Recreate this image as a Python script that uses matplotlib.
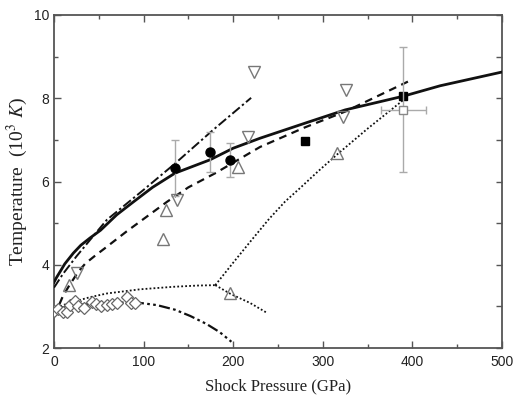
import matplotlib
matplotlib.use("Agg")
import matplotlib.pyplot as plt
from matplotlib.ticker import MultipleLocator

plt.rcParams['mathtext.fontset'] = 'stix'

# Curves
solid_P = [0, 3, 6.7, 12, 21.6, 30, 40, 52, 70, 88, 110, 135, 174, 200, 230, 280, 325, 390, 431, 500]
solid_T = [3.58, 3.7, 3.83, 4.02, 4.28, 4.47, 4.64, 4.83, 5.2, 5.5, 5.86, 6.2, 6.52, 6.8, 7.04, 7.4, 7.72, 8.05, 8.3, 8.63]

dash_P = [6, 10, 17, 27, 35, 46, 57, 81, 100, 126, 150, 180, 230, 280, 325, 395]
dash_T = [3.05, 3.25, 3.5, 3.83, 4.03, 4.22, 4.4, 4.8, 5.1, 5.51, 5.86, 6.2, 6.83, 7.3, 7.68, 8.4]

dashdot_P = [0, 10, 25, 45, 59, 100, 135, 177.6, 220]
dashdot_T = [3.45, 3.78, 4.2, 4.72, 5.08, 5.8, 6.43, 7.24, 8.01]

dotted_low_P = [3, 10, 21.7, 40, 59, 96, 133, 160, 180]
dotted_low_T = [2.96, 3.03, 3.11, 3.22, 3.31, 3.41, 3.47, 3.5, 3.51]

dotted_up_P = [180, 200, 220, 240, 258, 275, 295, 316, 350, 390]
dotted_up_T = [3.51, 4.05, 4.58, 5.1, 5.52, 5.85, 6.25, 6.65, 7.27, 7.96]

dotted_down_P = [180, 197, 219, 238]
dotted_down_T = [3.51, 3.3, 3.08, 2.84]

dd_P = [0, 10, 30, 60, 90, 115, 135, 152, 170, 185, 198]
dd_T = [2.93, 2.98, 3.04, 3.08, 3.1, 3.03, 2.92, 2.77, 2.58, 2.38, 2.15]

# Markers
circ_P = [135, 174, 196]
circ_T = [6.33, 6.7, 6.52]
circ_err = [0.67, 0.48, 0.4]

sq_P = [280, 390]
sq_T = [6.98, 8.05]

osq_P = [390]
osq_T = [7.72]
osq_xerr = [25]
osq_yerr = [1.5]

dtri_P = [223, 326, 323, 217, 137, 26]
dtri_T = [8.64, 8.2, 7.56, 7.07, 5.55, 3.81]

utri_P = [125, 122, 205, 196, 316, 17]
utri_T = [5.31, 4.63, 6.35, 3.33, 6.68, 3.51]

dia_P = [0, 5, 10, 14, 18, 23, 27, 33, 42, 47, 53, 59, 65, 70, 81, 86, 90]
dia_T = [2.88, 2.93, 2.87, 2.87, 3.03, 3.12, 3.02, 2.97, 3.1, 3.06, 3.0, 3.03, 3.05, 3.07, 3.22, 3.07, 3.08]

fig = plt.figure(figsize=(5.13, 3.99), dpi=100)
ax = fig.add_axes([54/513, 1-348/399, 448/513, 333/399])

lc = '#111111'
ax.plot(solid_P, solid_T, '-', color=lc, lw=2.0, zorder=3)
ax.plot(dash_P, dash_T, color=lc, lw=1.6, dashes=(3.5, 2.5), zorder=3)
ax.plot(dashdot_P, dashdot_T, color=lc, lw=1.4, dashes=(5, 1.5, 1.2, 1.5), zorder=3)
ax.plot(dotted_low_P, dotted_low_T, color=lc, lw=1.3, dashes=(1, 1.2), zorder=3)
ax.plot(dotted_up_P, dotted_up_T, color=lc, lw=1.3, dashes=(1, 1.2), zorder=3)
ax.plot(dotted_down_P, dotted_down_T, color=lc, lw=1.3, dashes=(1, 1.2), zorder=3)
ax.plot(dd_P, dd_T, color=lc, lw=1.6, dashes=(5, 1.5, 1.2, 1.5, 1.2, 1.5), zorder=3)

ec = '#aaaaaa'
ax.plot(circ_P, circ_T, 'o', color='black', ms=6.5, zorder=4)
ax.errorbar(circ_P, circ_T, yerr=circ_err, fmt='none',
            ecolor=ec, elinewidth=1.0, capsize=3, capthick=1.0, zorder=3.5)
ax.plot(sq_P, sq_T, 's', color='black', ms=6, zorder=4)
ax.errorbar(osq_P, osq_T, xerr=osq_xerr, yerr=osq_yerr, fmt='s', mfc='white',
            mec='#888888', ms=6, ecolor=ec, elinewidth=1.0, capsize=3, capthick=1.0, zorder=4)
ax.plot(dtri_P, dtri_T, 'v', mfc='none', mec='#777777', ms=8, mew=1.0, zorder=4)
ax.plot(utri_P, utri_T, '^', mfc='none', mec='#777777', ms=8, mew=1.0, zorder=4)
ax.plot(dia_P, dia_T, 'D', mfc='white', mec='#666666', ms=6.5, mew=0.9, zorder=4)

ax.set_xlim(0, 500)
ax.set_ylim(2, 10)
ax.xaxis.set_major_locator(MultipleLocator(100))
ax.xaxis.set_minor_locator(MultipleLocator(50))
ax.yaxis.set_major_locator(MultipleLocator(2))
ax.yaxis.set_minor_locator(MultipleLocator(1))
ax.tick_params(which='both', direction='in', top=True, right=False, colors='#555555',
               labelcolor='#222222', labelsize=10)
ax.tick_params(which='major', length=5, width=1.0)
ax.tick_params(which='minor', length=3, width=1.0)
ax.tick_params(axis='x', pad=5)
for lab in ax.get_xticklabels() + ax.get_yticklabels():
    lab.set_family('Liberation Sans')
for s in ax.spines.values():
    s.set_color('#555555')
    s.set_linewidth(1.3)

# right-side ticks at every 1
ax2 = ax.twinx()
ax2.set_ylim(2, 10)
ax2.yaxis.set_major_locator(MultipleLocator(1))
ax2.tick_params(axis='y', direction='in', length=4, width=1.0, colors='#555555', labelright=False)
for s in ax2.spines.values():
    s.set_visible(False)

ax.set_xlabel('Shock Pressure (GPa)', family='Liberation Serif', fontsize=12, color='#222222', labelpad=7)
ax.set_ylabel(r'Temperature  (10$^{3}$ $K$)', family='Liberation Serif', fontsize=14, color='#222222', labelpad=3)

fig.savefig('out.png', dpi=100)
